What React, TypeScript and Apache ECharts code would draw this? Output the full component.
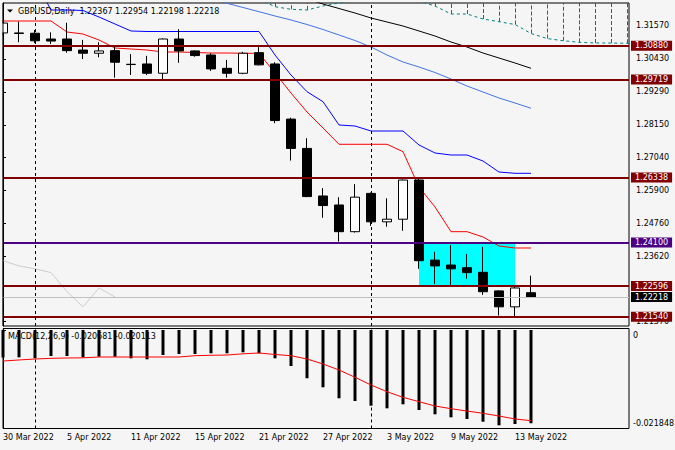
import React, { useEffect, useRef } from 'react';
import * as echarts from 'echarts';

const symbolName = 'GBPUSD';
const timeframe = 'Daily';

const dates = [
  '30 Mar 2022', '31 Mar 2022', '1 Apr 2022', '4 Apr 2022', '5 Apr 2022', '6 Apr 2022', '7 Apr 2022', '8 Apr 2022',
  '11 Apr 2022', '12 Apr 2022', '13 Apr 2022', '14 Apr 2022', '15 Apr 2022', '18 Apr 2022', '19 Apr 2022', '20 Apr 2022',
  '21 Apr 2022', '22 Apr 2022', '25 Apr 2022', '26 Apr 2022', '27 Apr 2022', '28 Apr 2022', '29 Apr 2022', '2 May 2022',
  '3 May 2022', '4 May 2022', '5 May 2022', '6 May 2022', '9 May 2022', '10 May 2022', '11 May 2022', '12 May 2022',
  '13 May 2022', '16 May 2022',
];

const opens = [
  1.3132, 1.3132, 1.3131, 1.3111, 1.3111, 1.3073, 1.3062, 1.3071,
  1.3023, 1.3025, 1.2993, 1.3111, 1.3070, 1.3056, 1.3010, 1.2993,
  1.3064, 1.3025, 1.2835, 1.2734, 1.2570, 1.2539, 1.2447, 1.2579,
  1.2481, 1.2490, 1.2625, 1.2349, 1.2332, 1.2323, 1.2307, 1.2243,
  1.2188, 1.22367,
];
const highs = [
  1.3175, 1.3171, 1.3142, 1.3134, 1.3167, 1.3108, 1.3100, 1.3085,
  1.3059, 1.3053, 1.3113, 1.3145, 1.3072, 1.3062, 1.3039, 1.3067,
  1.3083, 1.3031, 1.2840, 1.2769, 1.2597, 1.2566, 1.2611, 1.2582,
  1.2562, 1.2627, 1.2632, 1.2378, 1.2401, 1.2370, 1.2395, 1.2245,
  1.2257, 1.22954,
];
const lows = [
  1.3125, 1.3100, 1.3097, 1.3094, 1.3064, 1.3042, 1.3048, 1.2978,
  1.2987, 1.2987, 1.2972, 1.3029, 1.3050, 1.3001, 1.2978, 1.2990,
  1.3020, 1.2821, 1.2692, 1.2566, 1.2495, 1.2413, 1.2444, 1.2467,
  1.2464, 1.2450, 1.2319, 1.2267, 1.2260, 1.2285, 1.2229, 1.2158,
  1.2152, 1.22198,
];
const closes = [
  1.3166, 1.3130, 1.3105, 1.3104, 1.3071, 1.3062, 1.3070, 1.3031,
  1.3024, 1.2993, 1.3111, 1.3070, 1.3054, 1.3008, 1.2993, 1.3062,
  1.3022, 1.2830, 1.2734, 1.2568, 1.2537, 1.2447, 1.2566, 1.2481,
  1.2490, 1.2625, 1.2347, 1.2329, 1.2319, 1.2306, 1.2240, 1.2188,
  1.2253, 1.22218,
];

const tenkan = [
  1.31731, 1.31731, 1.31731, 1.31731, 1.31352, 1.31283, 1.31076, 1.30801,
  1.30766, 1.30732, 1.30663, 1.30663, 1.30646, 1.30628, 1.30628, 1.30618,
  1.30618, 1.29939, 1.29250, 1.28595, 1.28044, 1.27482, 1.27482, 1.27482,
  1.27482, 1.27227, 1.26010, 1.25321, 1.24470, 1.24470, 1.24287, 1.23977,
  1.23908, 1.23908,
];
const kijun = [
  1.33834, 1.33489, 1.33144, 1.32110, 1.32110, 1.32093, 1.31869, 1.31628,
  1.31387, 1.31369, 1.31369, 1.31369, 1.31369, 1.31369, 1.31369, 1.31369,
  1.31369, 1.30559, 1.29870, 1.29295, 1.28950, 1.28147, 1.28112, 1.27940,
  1.27940, 1.27940, 1.27458, 1.27182, 1.27113, 1.27113, 1.26906, 1.26527,
  1.26482, 1.26482,
];
const maBlue = [
  null, null, null, null, null, null, null, null,
  null, null, null, null, 1.32627, 1.32490, 1.32341, 1.32197,
  1.32052, 1.31904, 1.31766, 1.31611, 1.31438, 1.31249, 1.31059, 1.30835,
  1.30560, 1.30318, 1.30146, 1.29956, 1.29732, 1.29491, 1.29284, 1.29078,
  1.28905, 1.28723,
];
const maBlack = [
  null, null, null, null, null, null, null, null,
  null, null, null, null, null, null, null, null,
  null, null, 1.32662, 1.32490, 1.32317, 1.32162, 1.32007, 1.31835,
  1.31697, 1.31559, 1.31387, 1.31214, 1.31008, 1.30835, 1.30628, 1.30456,
  1.30284, 1.30101,
];

const spanAStart = 16;
const spanA = [
  1.32490, 1.32224, 1.32135, 1.32110, 1.32248, 1.32352, 1.32420, 1.32524,
  1.32558, 1.32524, 1.32420, 1.32248, 1.31973, 1.31973, 1.31800, 1.31707,
  1.31611, 1.31301, 1.31128, 1.31052, 1.30997, 1.30973, 1.30973, 1.30963,
  1.30963,
];
const spanB = [
  1.3312, 1.3312, 1.3312, 1.3312, 1.3312, 1.3312, 1.3312, 1.3312,
  1.3312, 1.3312, 1.3312, 1.3312, 1.3298, 1.3298, 1.3298, 1.3298,
  1.3298, 1.3298, 1.3285, 1.3285, 1.3285, 1.3285, 1.3285, 1.3285,
  1.3285,
];
const hatchIdx = [17, 18, 19, 27, 28, 29, 30, 31, 32, 33, 34, 35, 36, 37, 38, 39];
const chikouShift = 26;

const macd = [
  -0.0061, -0.00606, -0.00628, -0.00577, -0.00577, -0.00606, -0.00592, -0.00592,
  -0.00628, -0.0065, -0.00555, -0.00532, -0.00532, -0.00517, -0.00517, -0.00495,
  -0.00517, -0.00628, -0.00799, -0.01071, -0.01271, -0.01515, -0.01575, -0.01679,
  -0.01737, -0.01648, -0.01775, -0.0187, -0.01937, -0.01974, -0.02034, -0.02114,
  -0.02085, -0.020681,
];
const signal = [
  -0.00688, -0.00665, -0.00643, -0.00628, -0.00621, -0.00617, -0.00599, -0.00599,
  -0.00599, -0.00599, -0.00599, -0.00599, -0.0057, -0.00561, -0.00555, -0.00528,
  -0.0051, -0.00543, -0.0057, -0.00643, -0.00754, -0.00887, -0.01049, -0.0122,
  -0.01369, -0.01493, -0.0159, -0.01686, -0.01746, -0.01797, -0.01848, -0.01908,
  -0.01974, -0.020113,
];

const priceTicks = [1.3157, 1.3043, 1.2929, 1.2815, 1.2704, 1.259, 1.2476, 1.2362, 1.2137];
const macdTicks = [0, -0.021848];
const dateTickIdx = [0, 4, 8, 12, 16, 20, 24, 28, 32];

const resistanceLevels = [1.3088, 1.29719, 1.26338, 1.22596, 1.2154];
const pivotLevel = 1.241;
const separatorIdx = [2, 23];
const zoneIdx = [26, 32];
const zonePrices = [1.241, 1.22596];

const FONT = '"DejaVu Sans"';
const BG = '#F5F5F5';
const X_MAX = 39.125;
const P_MIN = 1.212195;
const P_MAX = 1.323517;
const M_MIN = -0.021848;
const M_MAX = 0.000333;

function lineData(arr: (number | null)[]) {
  const out: number[][] = [];
  arr.forEach((v, i) => {
    if (v != null) out.push([i, v]);
  });
  return out;
}

function buildOption() {
  const last = dates.length - 1;
  const candles = dates.map((_, i) => [i, opens[i], closes[i], lows[i], highs[i]]);
  const chikou = closes.slice(chikouShift).map((c, k) => [k, c]);
  const hatch = hatchIdx.map((i) => [i, spanA[i - spanAStart], spanB[i - spanAStart]]);
  const spanALine = spanA.map((v, k) => [k + spanAStart, v]);
  const header = `${symbolName},${timeframe}  ${opens[last].toFixed(5)} ${highs[last].toFixed(5)} ${lows[last].toFixed(5)} ${closes[last].toFixed(5)}`;
  const macdText = `MACD(12,26,9) ${macd[last].toFixed(6)} ${signal[last].toFixed(6)}`;

  const labelBase = {
    show: true,
    position: 'end',
    distance: 2,
    color: '#fff',
    fontSize: 8,
    fontFamily: FONT,
    lineHeight: 10,
    padding: [0, 4, 0, 4],
  };
  const levelItems: any[] = resistanceLevels.map((v) => ({
    yAxis: v,
    lineStyle: { color: '#800000', width: 2, type: 'solid' },
    label: { ...labelBase, backgroundColor: '#800000', formatter: v.toFixed(5) },
  }));
  levelItems.push({
    yAxis: pivotLevel,
    lineStyle: { color: '#4B0082', width: 2, type: 'solid' },
    label: { ...labelBase, backgroundColor: '#4B0082', formatter: pivotLevel.toFixed(5) },
  });
  levelItems.push({
    yAxis: closes[last],
    lineStyle: { color: '#C0C0C0', width: 1, type: 'solid' },
    label: { ...labelBase, backgroundColor: '#000000', formatter: closes[last].toFixed(5) },
  });
  separatorIdx.forEach((i) => {
    levelItems.push({
      xAxis: i,
      lineStyle: { color: '#000', width: 1, type: [3, 3] },
      label: { show: false },
    });
  });

  const axisText = { fontSize: 8, color: '#000', fontFamily: FONT };

  return {
    animation: false,
    backgroundColor: BG,
    textStyle: { fontFamily: FONT },
    grid: [
      { left: 3, top: 3, width: 626, height: 323, show: true, borderColor: '#000', borderWidth: 1, backgroundColor: 'transparent', outerBoundsMode: 'none', containLabel: false },
      { left: 3, top: 328.5, width: 626, height: 100, show: true, borderColor: '#000', borderWidth: 1, backgroundColor: 'transparent', outerBoundsMode: 'none', containLabel: false },
    ],
    xAxis: [
      { type: 'value', gridIndex: 0, min: 0, max: X_MAX, show: false, splitLine: { show: false } },
      {
        type: 'value', gridIndex: 1, min: 0, max: X_MAX,
        axisLine: { show: false },
        axisTick: { show: true, customValues: dateTickIdx, length: 3, lineStyle: { color: '#000' } },
        axisLabel: { ...axisText, customValues: dateTickIdx, formatter: (v: number) => dates[Math.round(v)], align: 'left', margin: 5 },
        splitLine: { show: false },
      },
    ],
    yAxis: [
      {
        type: 'value', gridIndex: 0, position: 'right', min: P_MIN, max: P_MAX,
        axisLine: { show: true, lineStyle: { color: '#000' } },
        axisTick: { show: true, customValues: priceTicks, length: 3, lineStyle: { color: '#000' } },
        axisLabel: { ...axisText, customValues: priceTicks, formatter: (v: number) => v.toFixed(5), margin: 7, align: 'left' },
        splitLine: { show: false },
      },
      {
        type: 'value', gridIndex: 1, position: 'right', min: M_MIN, max: M_MAX,
        axisLine: { show: true, lineStyle: { color: '#000' } },
        axisTick: { show: true, customValues: macdTicks, length: 3, lineStyle: { color: '#000' } },
        axisLabel: {
          ...axisText,
          customValues: macdTicks,
          margin: 4,
          align: 'left',
          formatter: (v: number) => (Math.abs(v) < 1e-9 ? '{t|0}' : `{b|${v.toFixed(6)}}`),
          rich: {
            t: { ...axisText, padding: [10, 0, 0, 0] },
            b: { ...axisText, padding: [0, 0, 10, 0] },
          },
        },
        splitLine: { show: false },
      },
    ],
    graphic: [
      { type: 'rect', z: 20, silent: true, shape: { x: 0, y: 0, width: 2.5, height: 330 }, style: { fill: BG } },
      { type: 'line', z: 21, silent: true, shape: { x1: 3, y1: 3, x2: 3, y2: 326 }, style: { stroke: '#000', lineWidth: 1 } },
      { type: 'polygon', z: 0, shape: { points: [[7, 9.5], [13, 9.5], [10, 12.5]] }, style: { fill: '#000' } },
      { type: 'text', z: 0, x: 18, y: 11, style: { text: header, fill: '#000', font: `8px ${FONT}`, verticalAlign: 'middle' } },
      { type: 'text', z: 0, x: 8, y: 336, style: { text: macdText, fill: '#000', font: `8px ${FONT}`, verticalAlign: 'middle' } },
    ],
    series: [
      {
        type: 'custom',
        xAxisIndex: 0, yAxisIndex: 0,
        z: 2,
        silent: true,
        data: hatch,
        encode: { x: 0, y: [1, 2] },
        renderItem: (params: any, api: any) => {
          const cs = params.coordSys;
          const p1 = api.coord([api.value(0), api.value(1)]);
          const p2 = api.coord([api.value(0), api.value(2)]);
          if (p1[1] <= cs.y || p1[0] > cs.x + cs.width) return null;
          const y2 = Math.max(p2[1], cs.y);
          const px = Math.round(p1[0]) + 0.5;
          return {
            type: 'line',
            shape: { x1: px, y1: p1[1], x2: px, y2 },
            style: { stroke: '#DC143C', lineWidth: 1, lineDash: [4, 2] },
          };
        },
      },
      {
        type: 'line', xAxisIndex: 0, yAxisIndex: 0, data: spanALine, symbol: 'none', showSymbol: false, silent: true, z: 2,
        lineStyle: { color: '#008080', width: 1, type: [3, 3] },
      },
      {
        type: 'line', xAxisIndex: 0, yAxisIndex: 0, data: chikou, symbol: 'none', showSymbol: false, silent: true, z: 2,
        lineStyle: { color: '#CDCDCD', width: 1 },
      },
      {
        type: 'line', xAxisIndex: 0, yAxisIndex: 0, data: lineData(maBlack), symbol: 'none', showSymbol: false, silent: true, z: 2,
        lineStyle: { color: '#000000', width: 1 },
      },
      {
        type: 'line', xAxisIndex: 0, yAxisIndex: 0, data: lineData(maBlue), symbol: 'none', showSymbol: false, silent: true, z: 2,
        lineStyle: { color: '#4173E6', width: 1 },
      },
      {
        type: 'line', xAxisIndex: 0, yAxisIndex: 0, data: lineData(kijun), symbol: 'none', showSymbol: false, silent: true, z: 2,
        lineStyle: { color: '#0000FF', width: 1 },
      },
      {
        type: 'line', xAxisIndex: 0, yAxisIndex: 0, data: lineData(tenkan), symbol: 'none', showSymbol: false, silent: true, z: 2,
        lineStyle: { color: '#FF0000', width: 1 },
      },
      {
        type: 'candlestick',
        xAxisIndex: 0, yAxisIndex: 0,
        z: 3,
        silent: true,
        barWidth: 10,
        data: candles,
        itemStyle: { color: '#FFFFFF', color0: '#000000', borderColor: '#000000', borderColor0: '#000000', borderWidth: 1 },
        markArea: {
          silent: true,
          z: 1,
          label: { show: false },
          itemStyle: { color: '#00FFFF', opacity: 1, borderWidth: 0 },
          data: [[{ xAxis: zoneIdx[0], yAxis: zonePrices[0] }, { xAxis: zoneIdx[1], yAxis: zonePrices[1] }]],
        },
        markLine: {
          silent: true,
          symbol: ['none', 'none'],
          precision: 5,
          data: levelItems,
        },
      },
      {
        type: 'bar',
        xAxisIndex: 1, yAxisIndex: 1,
        z: 2,
        silent: true,
        barWidth: 3,
        data: macd.map((v, i) => [i, v]),
        itemStyle: { color: '#000000' },
        markLine: {
          silent: true,
          symbol: ['none', 'none'],
          label: { show: false },
          lineStyle: { color: '#000', width: 1, type: [3, 3] },
          data: separatorIdx.map((i) => ({ xAxis: i })),
        },
      },
      {
        type: 'line', xAxisIndex: 1, yAxisIndex: 1, data: signal.map((v, i) => [i, v]), symbol: 'none', showSymbol: false, silent: true, z: 3,
        lineStyle: { color: '#FF0000', width: 1 },
      },
    ],
  };
}

export default function App() {
  const ref = useRef<HTMLDivElement>(null);
  useEffect(() => {
    if (!ref.current) return;
    const chart = echarts.init(ref.current, null, { renderer: 'svg' });
    chart.setOption(buildOption() as any);
    return () => chart.dispose();
  }, []);
  return <div ref={ref} style={{ position: 'fixed', left: 0, top: 0, width: 675, height: 450 }} />;
}
